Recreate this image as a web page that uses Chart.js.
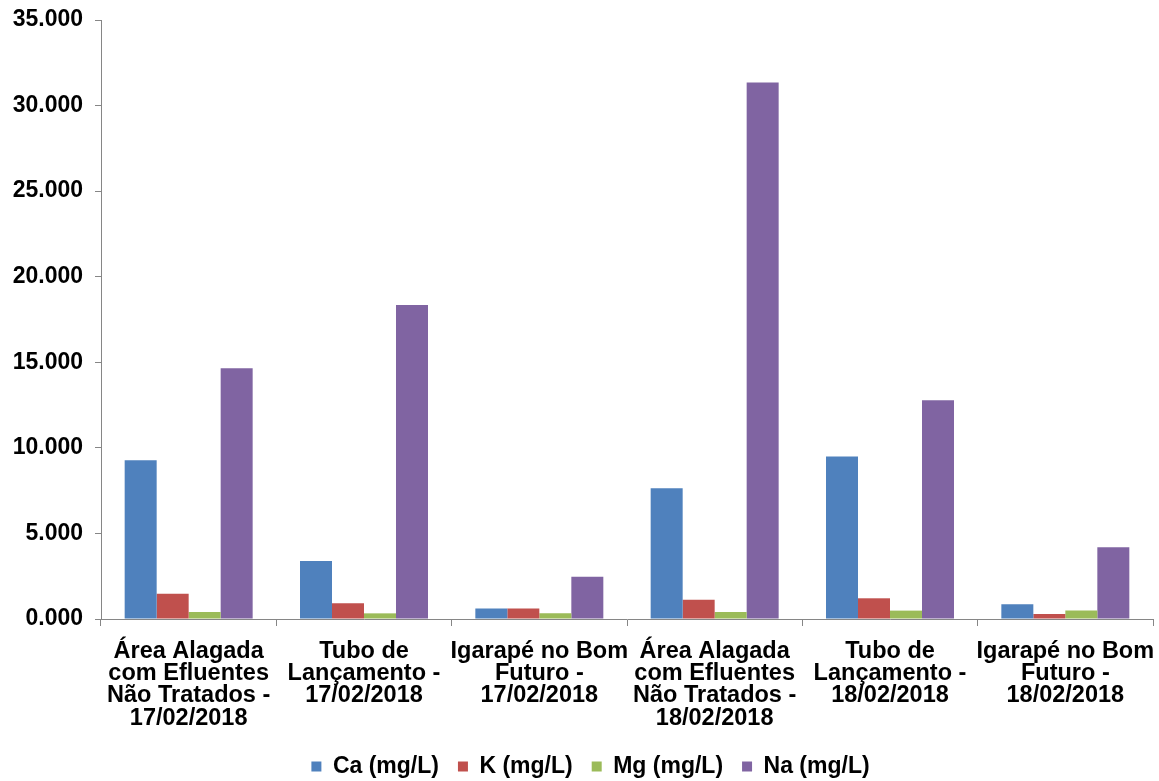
<!DOCTYPE html>
<html lang="pt">
<head>
<meta charset="UTF-8">
<title>Cátions</title>
<script src="https://cdn.jsdelivr.net/npm/chart.js"></script>
<style>
  html, body { margin: 0; padding: 0; background: #fff; }
  #wrap { width: 1159px; height: 781px; }
</style>
</head>
<body>
<div id="wrap"><canvas id="myChart"></canvas></div>
<script>
// sampling points (multi-line labels)
const locais = [
    ['Área Alagada', 'com Efluentes', 'Não Tratados -', '17/02/2018'],
    ['Tubo de', 'Lançamento -', '17/02/2018'],
    ['Igarapé no Bom', 'Futuro -', '17/02/2018'],
    ['Área Alagada', 'com Efluentes', 'Não Tratados -', '18/02/2018'],
    ['Tubo de', 'Lançamento -', '18/02/2018'],
    ['Igarapé no Bom', 'Futuro -', '18/02/2018']
];

const ca = [9.27, 3.39, 0.62, 7.64, 9.49, 0.86];
const k  = [1.48, 0.92, 0.62, 1.13, 1.21, 0.29];
const mg = [0.41, 0.33, 0.33, 0.41, 0.49, 0.49];
const na = [14.65, 18.35, 2.47, 31.35, 12.78, 4.19];

const yTicks = [0, 5, 10, 15, 20, 25, 30, 35];

const axisGrey = '#868686';
const fontFamily = '"Liberation Sans", Arial, sans-serif';

// nudge the legend down and to the right a little
const legendShift = {
    id: 'legendShift',
    afterLayout(chart) {
        chart.legend.top += 7;
        chart.legend.bottom += 7;
        chart.legend.left += 14;
        chart.legend.right += 14;
    }
};

const data = {
    labels: locais,
    datasets: [
        { label: 'Ca (mg/L)', data: ca, backgroundColor: '#4F81BD' },
        { label: 'K (mg/L)', data: k, backgroundColor: '#C0504D' },
        { label: 'Mg (mg/L)', data: mg, backgroundColor: '#9BBB59' },
        { label: 'Na (mg/L)', data: na, backgroundColor: '#8064A2' }
    ]
};

const config = {
    type: 'bar',
    data,
    plugins: [legendShift],
    options: {
        responsive: true,
        maintainAspectRatio: false,
        animation: false,
        categoryPercentage: 0.73,
        barPercentage: 1,
        layout: {
            padding: { top: 20, right: 6, left: 0, bottom: 0 }
        },
        scales: {
            x: {
                grid: {
                    offset: true,
                    drawOnChartArea: false,
                    drawTicks: true,
                    tickLength: 7,
                    color: axisGrey
                },
                border: { color: axisGrey, width: 1 },
                ticks: {
                    color: '#000',
                    padding: 14,
                    maxRotation: 0,
                    autoSkip: false,
                    font: { family: fontFamily, size: 23.5, weight: 'bold', lineHeight: 0.95 }
                },
                afterFit(scale) {
                    scale.height = 110;
                    scale.paddingLeft = 0;
                    scale.paddingRight = 0;
                }
            },
            y: {
                min: 0,
                max: 35,
                afterBuildTicks(scale) {
                    scale.ticks = yTicks.map(v => ({ value: v }));
                },
                grid: {
                    drawOnChartArea: false,
                    drawTicks: true,
                    tickLength: 6,
                    color: axisGrey
                },
                border: { color: axisGrey, width: 1 },
                ticks: {
                    color: '#000',
                    padding: 12,
                    font: { family: fontFamily, size: 23, weight: 'bold' },
                    callback: function (value) {
                        return Number(value).toFixed(3);
                    }
                },
                afterFit(scale) {
                    scale.width = 101;
                    scale.paddingTop = 0;
                    scale.paddingBottom = 0;
                }
            }
        },
        plugins: {
            legend: {
                position: 'bottom',
                labels: {
                    boxWidth: 10,
                    boxHeight: 10,
                    padding: 19,
                    color: '#000',
                    font: { family: fontFamily, size: 23, weight: 'bold' }
                }
            },
            tooltip: { enabled: false }
        }
    }
};

const myChart = new Chart(document.getElementById('myChart'), config);
</script>
</body>
</html>
